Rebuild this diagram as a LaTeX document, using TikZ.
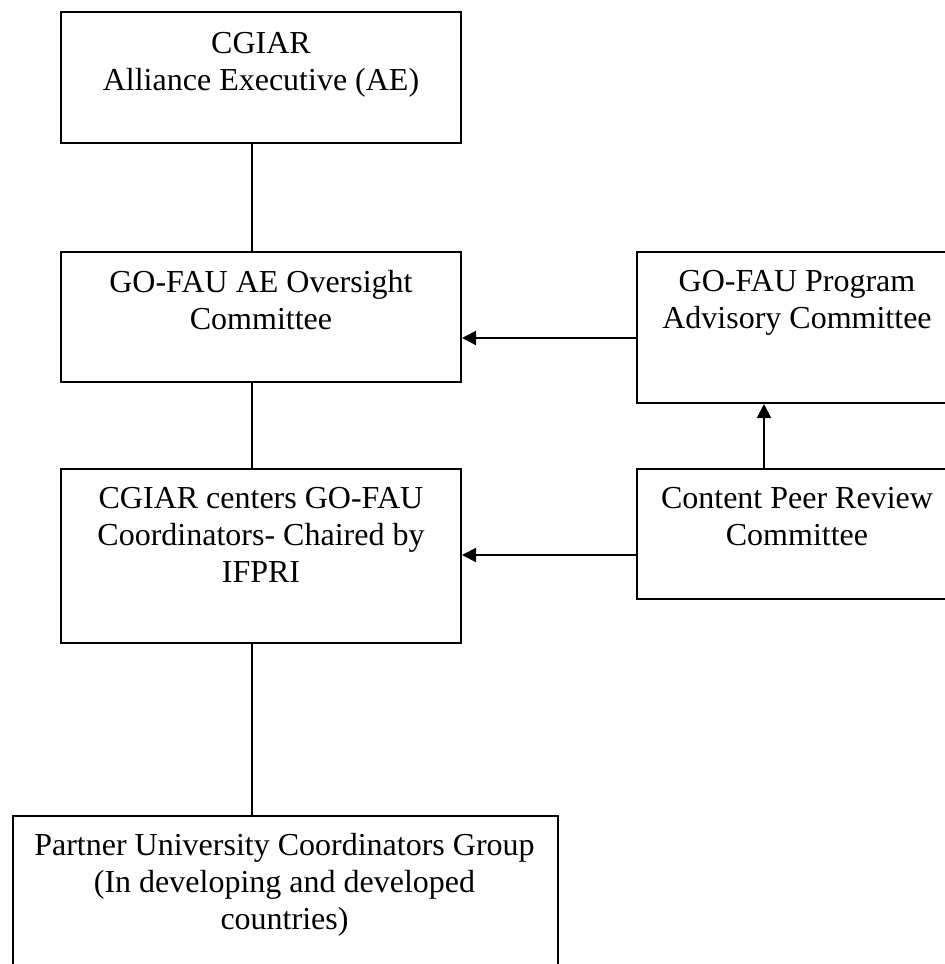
\documentclass[tikz,border=0pt]{standalone}
\usepackage{fontspec}
\setmainfont{Liberation Serif}
\usetikzlibrary{arrows.meta,calc}
\begin{document}
\begin{tikzpicture}[x=1pt,y=-1pt,
  box/.style={draw, line width=2pt, rectangle, inner sep=0pt, anchor=north west},
  txt/.style={inner sep=0pt, anchor=base, align=flush center, text width=520pt,
    font=\fontsize{32}{37}\selectfont},
  link/.style={line width=2pt},
  arr/.style={line width=2pt, -{Triangle[length=14pt,width=14pt]}}]
\useasboundingbox (0,0) rectangle (945,964);
\fill[white] (0,0) rectangle (945,964);
% boxes
\node[box, minimum width=400pt, minimum height=131pt] (b1) at (60,11) {};
\node[box, minimum width=400pt, minimum height=130pt] (b2) at (60,251) {};
\node[box, minimum width=400pt, minimum height=174pt] (b3) at (60,468) {};
\node[box, minimum width=320pt, minimum height=151pt] (b4) at (636,251) {};
\node[box, minimum width=320pt, minimum height=130pt] (b5) at (636,468) {};
\node[box, minimum width=545pt, minimum height=175pt] (b6) at (12,815) {};
% texts
\node[txt] (t1) at ($(b1.north)+(0,42)$) {CGIAR\\Alliance Executive (AE)};
\node[txt] (t2) at ($(b2.north)+(0,41)$) {GO-FAU AE Oversight\\Committee};
\node[txt] (t3) at ($(b3.north)+(0,40)$) {CGIAR centers GO-FAU\\Coordinators- Chaired by\\IFPRI};
\node[txt] (t4) at ($(b4.north)+(0,40)$) {GO-FAU Program\\Advisory Committee};
\node[txt] (t5) at ($(b5.north)+(0,40)$) {Content Peer Review\\Committee};
\node[txt] (t6) at ($(b6.north)+(-1,40)$) {Partner University Coordinators Group\\(In developing and developed\\countries)};
% connector guides
\coordinate (cx) at (252,0);
\coordinate (ax) at (764,0);
\coordinate (ya) at (0,338);
\coordinate (yb) at (0,555);
% connectors
\draw[link] (b1.south -| cx) -- (b2.north -| cx);
\draw[link] (b2.south -| cx) -- (b3.north -| cx);
\draw[link] (b3.south -| cx) -- (b6.north -| cx);
\draw[arr] (b4.west |- ya) -- (b2.east |- ya);
\draw[arr] (b5.west |- yb) -- (b3.east |- yb);
\draw[arr] (b5.north -| ax) -- (b4.south -| ax);
\end{tikzpicture}
\end{document}
